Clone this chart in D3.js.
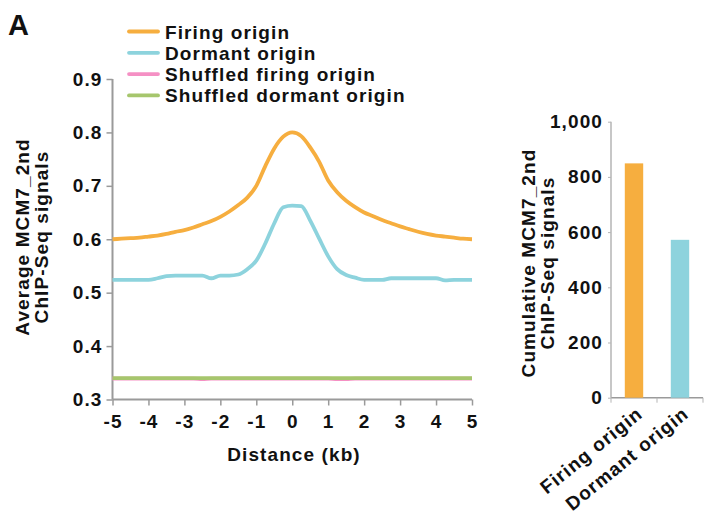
<!DOCTYPE html>
<html>
<head>
<meta charset="utf-8">
<script src="https://cdn.jsdelivr.net/npm/d3@7"></script>
<style>
  html, body { margin: 0; padding: 0; background: #fff; }
  svg { display: block; }
  svg text { font-family: "Liberation Sans", Arial, Helvetica, sans-serif; font-weight: bold; fill: #111; letter-spacing: 1.1px; }
</style>
</head>
<body>
<svg id="chart" width="707" height="517"></svg>
<script>
// Distance from origin centre, in kb (0.25 kb bins)
const distances = d3.range(41).map(i => -5 + i * 0.25);

// Average MCM7_2nd ChIP-Seq signal per bin
const firingOrigin = [
  0.600, 0.601, 0.602, 0.603, 0.605, 0.607, 0.610, 0.614, 0.617, 0.622,
  0.628, 0.634, 0.642, 0.652, 0.664, 0.678, 0.700, 0.737, 0.770, 0.792,
  0.800, 0.793, 0.772, 0.745, 0.710, 0.688, 0.672, 0.660, 0.650, 0.643,
  0.636, 0.630, 0.624, 0.619, 0.614, 0.610, 0.607, 0.605, 0.603, 0.601,
  0.600
];
const dormantOrigin = [
  0.524, 0.524, 0.524, 0.524, 0.524, 0.527, 0.531, 0.532, 0.532, 0.532,
  0.532, 0.527, 0.532, 0.532, 0.534, 0.544, 0.560, 0.592, 0.630, 0.660,
  0.663, 0.662, 0.635, 0.601, 0.568, 0.544, 0.533, 0.528, 0.524, 0.524,
  0.524, 0.527, 0.527, 0.527, 0.527, 0.527, 0.527, 0.523, 0.524, 0.524,
  0.524
];
const shuffledFiring = [
  0.339, 0.339, 0.339, 0.339, 0.339, 0.339, 0.339, 0.339, 0.339, 0.339,
  0.338, 0.339, 0.339, 0.339, 0.339, 0.339, 0.339, 0.339, 0.339, 0.339,
  0.339, 0.339, 0.339, 0.339, 0.339, 0.338, 0.338, 0.339, 0.339, 0.339,
  0.339, 0.339, 0.339, 0.339, 0.339, 0.339, 0.339, 0.339, 0.339, 0.339,
  0.339
];
const shuffledDormant = [
  0.340, 0.340, 0.340, 0.340, 0.340, 0.340, 0.340, 0.340, 0.340, 0.340,
  0.340, 0.340, 0.340, 0.340, 0.340, 0.340, 0.340, 0.340, 0.340, 0.340,
  0.340, 0.340, 0.340, 0.340, 0.340, 0.340, 0.340, 0.340, 0.340, 0.340,
  0.340, 0.340, 0.340, 0.340, 0.340, 0.340, 0.340, 0.340, 0.340, 0.340,
  0.340
];

const seriesNames = ["Firing origin", "Dormant origin", "Shuffled firing origin", "Shuffled dormant origin"];
const seriesColors = ["#F6AE3F", "#8DD3DD", "#F590C4", "#A6C66D"];

const xTicks = [-5, -4, -3, -2, -1, 0, 1, 2, 3, 4, 5];
const yTicks = [0.3, 0.4, 0.5, 0.6, 0.7, 0.8, 0.9];

// Cumulative signal per origin class
const barCategories = ["Firing origin", "Dormant origin"];
const barValues = [849, 572];
const barColors = ["#F6AE3F", "#8DD3DD"];
const barTicks = [0, 200, 400, 600, 800, 1000];

const svg = d3.select("#chart");
const axisColor = "#9a9a9a";
const FS = 19;

// ---------- Panel label ----------
svg.append("text").attr("x", 8).attr("y", 35)
  .attr("font-size", 29).style("letter-spacing", "0px").text("A");

// ---------- Line profile ----------
const x = d3.scaleLinear().domain([-5, 5]).range([112.5, 472]);
const y = d3.scaleLinear().domain([0.3, 0.9]).range([399.5, 79]);

const gx = svg.append("g").attr("transform", "translate(0,399.5)")
  .call(d3.axisBottom(x).tickValues(xTicks).tickSize(6).tickPadding(9).tickFormat(d => String(d)));
const gy = svg.append("g").attr("transform", "translate(112.5,0)")
  .call(d3.axisLeft(y).tickValues(yTicks).tickSize(6).tickPadding(4).tickFormat(d3.format(".1f")));
[gx, gy].forEach(g => {
  g.select(".domain").attr("stroke", axisColor).attr("stroke-width", 2);
  g.selectAll(".tick line").attr("stroke", axisColor).attr("stroke-width", 1.5);
  g.selectAll(".tick text").attr("font-size", FS).attr("font-family", null).attr("fill", null);
});
gx.select(".domain").attr("d", `M${x.range()[0]},0H${x.range()[1]}`);
gy.select(".domain").attr("d", `M0,${y.range()[0]}V${y.range()[1]}`);

const line = d3.line().curve(d3.curveMonotoneX).x((d, i) => x(distances[i])).y(d => y(d));
const seriesData = [firingOrigin, dormantOrigin, shuffledFiring, shuffledDormant];
const drawOrder = [2, 3, 1, 0];
drawOrder.forEach(k => {
  svg.append("path").datum(seriesData[k])
    .attr("fill", "none").attr("stroke", seriesColors[k])
    .attr("stroke-width", 3.8).attr("stroke-linejoin", "round")
    .attr("d", line);
});

// Legend
const legend = svg.append("g");
seriesNames.forEach((name, i) => {
  const ly = 31.5 + i * 21.3;
  legend.append("line").attr("x1", 129).attr("x2", 158).attr("y1", ly).attr("y2", ly)
    .attr("stroke", seriesColors[i]).attr("stroke-width", 3.8).attr("stroke-linecap", "round");
  legend.append("text").attr("x", 165).attr("y", ly + 7)
    .attr("font-size", FS).text(name);
});

// Axis titles
svg.append("text").attr("x", 294).attr("y", 461).attr("text-anchor", "middle")
  .attr("font-size", FS).text("Distance (kb)");
const yt = svg.append("text").attr("transform", "translate(0,237) rotate(-90)")
  .attr("text-anchor", "middle").attr("font-size", FS);
yt.append("tspan").attr("x", 0).attr("y", 29).text("Average MCM7_2nd");
yt.append("tspan").attr("x", 0).attr("y", 48).text("ChIP-Seq signals");

// ---------- Cumulative bars ----------
const bx = d3.scaleBand().domain(barCategories).range([611, 703]).paddingInner(0.6).paddingOuter(0.3);
const by = d3.scaleLinear().domain([0, 1000]).range([397.7, 121.7]);

const gbx = svg.append("g").attr("transform", "translate(0,397.7)")
  .call(d3.axisBottom(bx).tickSize(0).tickFormat(""));
gbx.select(".domain").attr("stroke", axisColor).attr("stroke-width", 1.5)
  .attr("d", `M611,0H703`);
// category separators below the baseline
[611, 657, 703].forEach(px => {
  gbx.append("line").attr("x1", px).attr("x2", px).attr("y1", 0).attr("y2", 5)
    .attr("stroke", "#b5b5b5").attr("stroke-width", 1);
});

const gby = svg.append("g").attr("transform", "translate(611,0)")
  .call(d3.axisLeft(by).tickValues(barTicks).tickSize(3).tickPadding(5).tickFormat(d3.format(",")));
gby.select(".domain").attr("stroke", "#b5b5b5").attr("stroke-width", 1.5)
  .attr("d", `M0,${by.range()[0]}V${by.range()[1]}`);
gby.selectAll(".tick line").attr("stroke", "#b5b5b5");
gby.selectAll(".tick text").attr("font-size", FS).attr("font-family", null).attr("fill", null);

svg.append("g").selectAll("rect").data(barValues).join("rect")
  .attr("x", (d, i) => bx(barCategories[i]))
  .attr("width", bx.bandwidth())
  .attr("y", d => by(d))
  .attr("height", d => by(0) - by(d))
  .attr("fill", (d, i) => barColors[i]);

// Rotated category labels
barCategories.forEach((c, i) => {
  const cx = bx(c) + bx.bandwidth() / 2 + 10;
  svg.append("text")
    .attr("transform", `translate(${cx},416) rotate(-39)`)
    .attr("text-anchor", "end").attr("font-size", FS).text(c);
});

const byt = svg.append("text").attr("transform", "translate(0,263) rotate(-90)")
  .attr("text-anchor", "middle").attr("font-size", FS);
byt.append("tspan").attr("x", 0).attr("y", 535).text("Cumulative MCM7_2nd");
byt.append("tspan").attr("x", 0).attr("y", 554).text("ChIP-Seq signals");
</script>
</body>
</html>
